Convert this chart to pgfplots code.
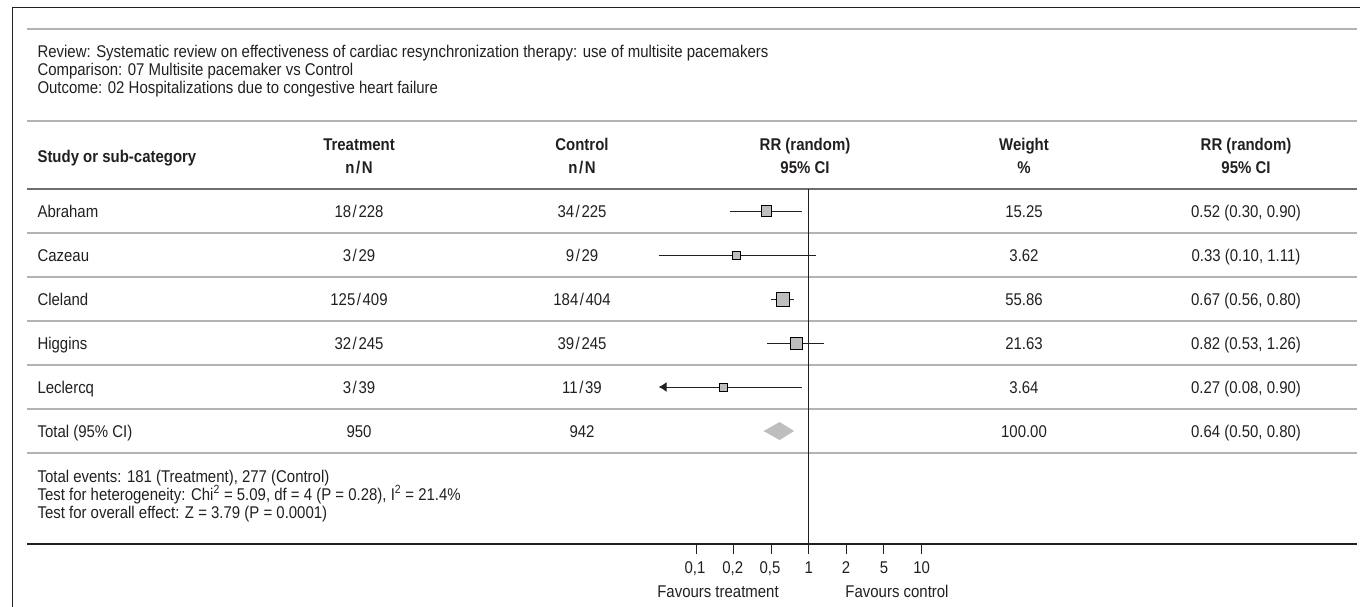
\documentclass[border=0pt]{standalone}
\usepackage{fontspec}
\setmainfont{Liberation Sans}[FakeStretch=0.88]
\usepackage{pgfplots}
\pgfplotsset{compat=1.18}
\usetikzlibrary{arrows.meta}
\definecolor{txt}{HTML}{231F20}
\definecolor{lgray}{HTML}{B3B3B3}
\definecolor{mgray}{HTML}{6D6E71}
\definecolor{boxgray}{HTML}{BDBEC0}
\newcommand{\slh}{\kern1.6pt/\kern1.6pt}
\begin{document}
\begin{tikzpicture}[font=\fontsize{17}{18}\selectfont,text=txt]
\begin{scope}[x=1pt,y=-1pt]
\path[use as bounding box] (0,0) rectangle (1360,607);
% frame
\draw[txt,line width=1pt] (12,607) -- (12,8) -- (1360,8);
% horizontal rules
\draw[lgray,line width=1.5pt] (27,29) -- (1357,29);
\draw[lgray,line width=1.5pt] (27,121) -- (1357,121);
\draw[mgray,line width=2pt] (27,189) -- (1357,189);
\foreach \yy in {233,277,321,365,409,453}{\draw[lgray,line width=1.3pt] (27,\yy) -- (1357,\yy);}
\draw[txt,line width=1.5pt] (27,544) -- (1357,544);
% title block
\node[anchor=base west] at (34,58) {Review: Systematic review on effectiveness of cardiac resynchronization therapy: use of multisite pacemakers};
\node[anchor=base west] at (34,76) {Comparison: 07 Multisite pacemaker vs Control};
\node[anchor=base west] at (34,94) {Outcome: 02 Hospitalizations due to congestive heart failure};
% header
\begin{scope}[font=\fontsize{17}{18}\selectfont\bfseries]
\node[anchor=base west] at (34,162) {Study or sub-category};
\node[anchor=base] at (359,150) {Treatment};
\node[anchor=base] at (359,174) {n\slh N};
\node[anchor=base] at (582,150) {Control};
\node[anchor=base] at (582,174) {n\slh N};
\node[anchor=base] at (805,150) {RR (random)};
\node[anchor=base] at (805,174) {95\% CI};
\node[anchor=base] at (1024,150) {Weight};
\node[anchor=base] at (1024,174) {\%};
\node[anchor=base] at (1246,150) {RR (random)};
\node[anchor=base] at (1246,174) {95\% CI};
\end{scope}
% rows
\node[anchor=base west] at (34,217) {Abraham};
\node[anchor=base west] at (34,261) {Cazeau};
\node[anchor=base west] at (34,305) {Cleland};
\node[anchor=base west] at (34,349) {Higgins};
\node[anchor=base west] at (34,393) {Leclercq};
\node[anchor=base west] at (34,437) {Total (95\% CI)};
\node[anchor=base] at (359,217) {18\slh 228};
\node[anchor=base] at (359,261) {3\slh 29};
\node[anchor=base] at (359,305) {125\slh 409};
\node[anchor=base] at (359,349) {32\slh 245};
\node[anchor=base] at (359,393) {3\slh 39};
\node[anchor=base] at (359,437) {950};
\node[anchor=base] at (582,217) {34\slh 225};
\node[anchor=base] at (582,261) {9\slh 29};
\node[anchor=base] at (582,305) {184\slh 404};
\node[anchor=base] at (582,349) {39\slh 245};
\node[anchor=base] at (582,393) {11\slh 39};
\node[anchor=base] at (582,437) {942};
\node[anchor=base] at (1024,217) {15.25};
\node[anchor=base] at (1024,261) {3.62};
\node[anchor=base] at (1024,305) {55.86};
\node[anchor=base] at (1024,349) {21.63};
\node[anchor=base] at (1024,393) {3.64};
\node[anchor=base] at (1024,437) {100.00};
\node[anchor=base] at (1246,217) {0.52 (0.30, 0.90)};
\node[anchor=base] at (1246,261) {0.33 (0.10, 1.11)};
\node[anchor=base] at (1246,305) {0.67 (0.56, 0.80)};
\node[anchor=base] at (1246,349) {0.82 (0.53, 1.26)};
\node[anchor=base] at (1246,393) {0.27 (0.08, 0.90)};
\node[anchor=base] at (1246,437) {0.64 (0.50, 0.80)};
% footer
\node[anchor=base west] at (34,482) {Total events: 181 (Treatment), 277 (Control)};
\node[anchor=base west] at (34,500) {Test for heterogeneity: Chi\textsuperscript{2} = 5.09, df = 4 (P = 0.28), I\textsuperscript{2} = 21.4\%};
\node[anchor=base west] at (34,518) {Test for overall effect: Z = 3.79 (P = 0.0001)};
% tick labels and bottom labels
\node[anchor=base] at (695,573) {0,1};
\node[anchor=base] at (732.7,573) {0,2};
\node[anchor=base] at (770,573) {0,5};
\node[anchor=base] at (808.7,573) {1};
\node[anchor=base] at (846,573) {2};
\node[anchor=base] at (884,573) {5};
\node[anchor=base] at (921.7,573) {10};
\node[anchor=base] at (718,597) {Favours treatment};
\node[anchor=base] at (897,597) {Favours control};
\end{scope}
% forest plot
\begin{axis}[at={(658.7pt,-544pt)}, anchor=south west, scale only axis,
  width=300pt, height=355pt, xmode=log, xmin=0.1, xmax=10,
  ymin=-8.568, ymax=-0.5, clip=false,
  axis x line*=bottom, axis y line=none,
  x axis line style={draw=txt,line width=1.5pt,-},
  xtick={0.1778,0.3162,0.5623,1,1.778,3.162,5.623},
  xticklabels={,,},
  minor xtick={},
  tick align=outside, major tick length=10pt,
  xtick style={draw=txt,line width=1pt},
  ]
\addplot[txt,line width=1pt] coordinates {(1,-0.5) (1,-8.568)};
\addplot[txt,line width=1pt] coordinates {(0.30,-1) (0.90,-1)};
\addplot[txt,line width=1pt] coordinates {(0.10,-2) (1.11,-2)};
\addplot[txt,line width=1pt] coordinates {(0.56,-3) (0.80,-3)};
\addplot[txt,line width=1pt] coordinates {(0.53,-4) (1.26,-4)};
\addplot[txt,line width=1pt,-{Latex[length=8pt,width=10pt]}] coordinates {(0.90,-5) (0.10,-5)};
\addplot[only marks,mark=square*,mark size=5.4pt,mark options={fill=boxgray,draw=none}] coordinates {(0.52,-1)};
\addplot[only marks,mark=square*,mark size=3.9pt,mark options={fill=boxgray,draw=none}] coordinates {(0.33,-2)};
\addplot[only marks,mark=square*,mark size=6.8pt,mark options={fill=boxgray,draw=none}] coordinates {(0.67,-3)};
\addplot[only marks,mark=square*,mark size=6pt,mark options={fill=boxgray,draw=none}] coordinates {(0.82,-4)};
\addplot[only marks,mark=square*,mark size=4pt,mark options={fill=boxgray,draw=none}] coordinates {(0.27,-5)};
\addplot[fill=boxgray,draw=none] coordinates {(0.50,-6) (0.64,-5.7955) (0.80,-6) (0.64,-6.2045)} -- cycle;
\end{axis}
\end{tikzpicture}
\end{document}
